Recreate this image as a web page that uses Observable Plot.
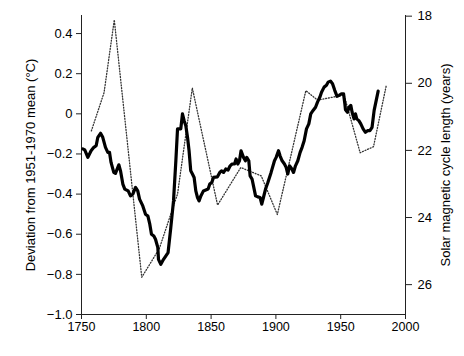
<!DOCTYPE html>
<html>
<head>
<meta charset="utf-8">
<script src="https://cdn.jsdelivr.net/npm/d3@7"></script>
<script src="https://cdn.jsdelivr.net/npm/@observablehq/plot@0.6"></script>
<style>
  html, body { margin: 0; padding: 0; background: #fff; }
  #chart svg { display: block; }
</style>
</head>
<body>
<div id="chart"></div>
<script>
// Temperature deviation (thick line)
const tempYears = [1751.0,1752.5,1754.9,1757.4,1759.5,1761.3,1762.6,1764.7,1766.4,1768.5,1770.3,1771.6,1772.8,1774.9,1776.2,1778.8,1780.1,1781.9,1783.4,1786.0,1787.8,1789.6,1791.7,1793.4,1794.8,1797.3,1799.4,1801.2,1802.7,1804.0,1805.8,1807.1,1808.9,1809.4,1811.2,1813.3,1815.0,1816.8,1818.9,1821.0,1822.8,1824.1,1826.6,1827.9,1829.2,1830.5,1831.8,1833.0,1834.3,1835.6,1836.9,1838.2,1839.5,1840.7,1842.1,1844.1,1847.7,1849.0,1850.5,1851.9,1854.9,1856.7,1858.0,1859.6,1861.3,1863.1,1864.7,1866.2,1868.1,1869.3,1870.6,1871.9,1873.1,1875.0,1876.5,1877.5,1879.1,1880.1,1881.6,1882.7,1884.3,1886.0,1887.8,1889.1,1890.4,1892.0,1893.8,1896.3,1898.9,1900.2,1902.0,1903.2,1904.8,1906.6,1907.9,1909.2,1910.5,1912.3,1913.6,1915.1,1916.9,1918.7,1920.2,1921.8,1923.6,1925.4,1926.9,1928.7,1930.6,1932.1,1933.9,1935.2,1937.2,1939.0,1940.3,1942.1,1943.7,1945.4,1947.2,1948.8,1950.6,1952.2,1953.2,1953.7,1955.2,1956.5,1957.8,1958.8,1960.3,1961.4,1962.4,1964.0,1965.5,1967.3,1969.1,1970.7,1972.5,1974.2,1975.8,1978.9];
const tempValues = [-0.175,-0.18,-0.217,-0.184,-0.167,-0.159,-0.117,-0.097,-0.117,-0.167,-0.192,-0.192,-0.242,-0.292,-0.297,-0.254,-0.284,-0.35,-0.375,-0.384,-0.409,-0.40,-0.367,-0.384,-0.425,-0.459,-0.50,-0.509,-0.55,-0.60,-0.609,-0.625,-0.667,-0.725,-0.75,-0.725,-0.709,-0.692,-0.567,-0.434,-0.234,-0.075,-0.075,0.0,-0.034,-0.059,-0.117,-0.184,-0.284,-0.30,-0.317,-0.384,-0.417,-0.434,-0.409,-0.384,-0.375,-0.35,-0.342,-0.317,-0.314,-0.292,-0.284,-0.292,-0.275,-0.28,-0.259,-0.25,-0.25,-0.225,-0.25,-0.234,-0.184,-0.217,-0.234,-0.217,-0.234,-0.309,-0.325,-0.359,-0.409,-0.414,-0.417,-0.45,-0.417,-0.375,-0.342,-0.292,-0.234,-0.217,-0.184,-0.209,-0.234,-0.25,-0.267,-0.30,-0.259,-0.275,-0.292,-0.259,-0.234,-0.192,-0.167,-0.134,-0.075,-0.05,0.0,0.017,0.033,0.058,0.083,0.108,0.133,0.142,0.158,0.163,0.15,0.117,0.087,0.092,0.10,0.10,0.05,0.02,0.008,0.033,0.042,0.008,-0.025,0.0,-0.025,-0.034,-0.05,-0.075,-0.092,-0.084,-0.084,-0.067,0.017,0.113];

// Solar magnetic cycle length (dotted line, right axis)
const solarYears = [1757.6,1767.4,1775.3,1796.5,1810.0,1824.1,1835.5,1855.0,1872.9,1888.7,1901.1,1923.1,1932.1,1952.6,1965.0,1975.3,1985.3];
const solarLengths = [21.42,20.28,18.11,25.78,24.93,23.30,20.14,23.63,22.51,22.76,23.91,20.22,20.50,20.35,22.07,21.89,20.04];

// Axis ticks
const xTicks = [1750,1800,1850,1900,1950,2000];
const yTicks = [-1.0,-0.8,-0.6,-0.4,-0.2,0,0.2,0.4];
const solarTicks = [18,20,22,24,26];

// Scale domains
const yDomain = [-1.0, 0.49];
const solarDomain = [26.89, 17.98]; // bottom, top

const toTemp = s => yDomain[0] + (solarDomain[0] - s) / (solarDomain[0] - solarDomain[1]) * (yDomain[1] - yDomain[0]);
const fromTemp = v => solarDomain[0] - (v - yDomain[0]) / (yDomain[1] - yDomain[0]) * (solarDomain[0] - solarDomain[1]);

const temp = tempYears.map((x, i) => ({x, y: tempValues[i]}));
const solar = solarYears.map((x, i) => ({x, y: toTemp(solarLengths[i])}));

const fmt = d3.format(".1f");

const chart = Plot.plot({
  width: 464,
  height: 356,
  marginLeft: 81,
  marginRight: 59,
  marginTop: 15,
  marginBottom: 42,
  style: {fontFamily: "Liberation Sans, Arial, Helvetica, sans-serif", fontSize: "12.5px", color: "#000", background: "#fff"},
  x: {domain: [1750, 2000]},
  y: {domain: yDomain},
  marks: [
    Plot.ruleX([1750, 2000], {stroke: "#222", strokeWidth: 1}),
    Plot.ruleY([-1.0], {stroke: "#222", strokeWidth: 1}),
    Plot.axisX({ticks: xTicks, tickFormat: d => String(d), tickSize: 5, tickPadding: 3, label: null, stroke: "#222"}),
    Plot.axisY({ticks: yTicks, tickFormat: d => d === 0 ? "0" : fmt(d), tickSize: 5, tickPadding: 4,
      label: "Deviation from 1951-1970 mean (°C)", labelAnchor: "center", labelArrow: "none", labelOffset: 56, fontSize: 13, stroke: "#222"}),
    Plot.axisY({anchor: "right", ticks: solarTicks.map(toTemp), tickFormat: d => String(Math.round(fromTemp(d))), tickSize: 6, tickPadding: 6,
      label: "Solar magnetic cycle length (years)", labelAnchor: "center", labelArrow: "none", labelOffset: 44, fontSize: 13, stroke: "#222"}),
    Plot.line(solar, {x: "x", y: "y", stroke: "#333", strokeWidth: 1.3, strokeDasharray: "1,1.8"}),
    Plot.line(temp, {x: "x", y: "y", stroke: "#000", strokeWidth: 3.2, strokeLinejoin: "round"})
  ]
});
document.getElementById("chart").appendChild(chart);
</script>
</body>
</html>
